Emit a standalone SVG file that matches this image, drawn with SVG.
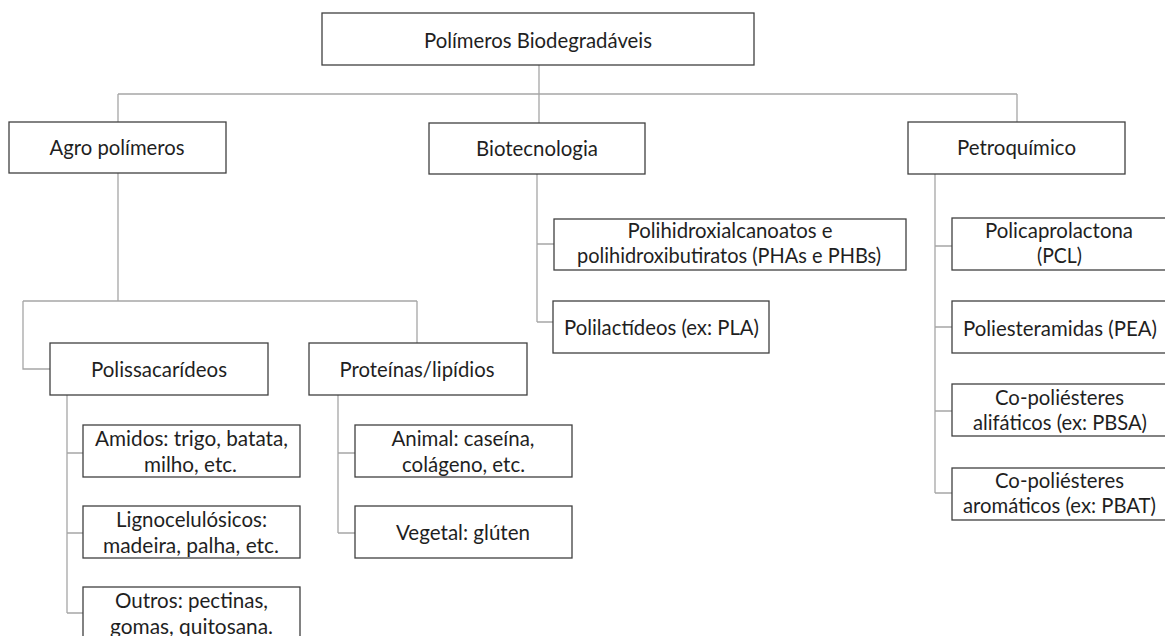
<svg xmlns="http://www.w3.org/2000/svg" width="1165" height="636" viewBox="0 0 1165 636">
<style>
.box{fill:#ffffff;stroke:#404040;stroke-width:1.3}
.con{fill:none;stroke:#a6a6a6;stroke-width:1.3}
text{font-family:Lato,"Open Sans","Liberation Sans",sans-serif;font-size:21px;fill:#1f1f1f;text-anchor:middle}
</style>
<rect width="1165" height="636" fill="#ffffff"/>
<g id="connectors">
<path class="con" d="M539,65 V94 M118,94 H1017 M118,94 V122 M539,94 V123 M1017,94 V122"/>
<path class="con" d="M118,173 V301 M23,301 H417 M23,301 V369 H50 M417,301 V343"/>
<path class="con" d="M67,395 V613 M67,453 H83 M67,533 H83 M67,613 H83"/>
<path class="con" d="M338,395 V533 M338,453 H355 M338,533 H355"/>
<path class="con" d="M537,174 V322 M537,244 H554 M537,322 H553"/>
<path class="con" d="M935,174 V493 M935,246 H952 M935,327 H952 M935,411 H952 M935,493 H952"/>
</g>
<g id="root"><rect class="box" x="322" y="13" width="432" height="52"/><text x="538" y="48" textLength="228" lengthAdjust="spacingAndGlyphs">Polímeros Biodegradáveis</text></g>
<g id="agro"><rect class="box" x="9" y="122" width="217" height="51"/><text x="117" y="155" textLength="135" lengthAdjust="spacingAndGlyphs">Agro polímeros</text></g>
<g id="bio"><rect class="box" x="429" y="123" width="216" height="51"/><text x="537" y="156" textLength="122" lengthAdjust="spacingAndGlyphs">Biotecnologia</text></g>
<g id="petro"><rect class="box" x="908" y="122" width="217" height="52"/><text x="1016.5" y="155" textLength="119" lengthAdjust="spacingAndGlyphs">Petroquímico</text></g>
<g id="polis"><rect class="box" x="50" y="343" width="218" height="52"/><text x="159" y="377" textLength="136" lengthAdjust="spacingAndGlyphs">Polissacarídeos</text></g>
<g id="prot"><rect class="box" x="309" y="343" width="218" height="52"/><text x="417" y="377" textLength="155" lengthAdjust="spacingAndGlyphs">Proteínas/lipídios</text></g>
<g id="amidos"><rect class="box" x="83" y="425" width="217" height="52"/><text x="191.5" y="446" textLength="193" lengthAdjust="spacingAndGlyphs">Amidos: trigo, batata,</text><text x="190.5" y="472" textLength="93" lengthAdjust="spacingAndGlyphs">milho, etc.</text></g>
<g id="ligno"><rect class="box" x="83" y="506" width="217" height="52"/><text x="191.5" y="527" textLength="151" lengthAdjust="spacingAndGlyphs">Lignocelulósicos:</text><text x="191" y="553" textLength="176" lengthAdjust="spacingAndGlyphs">madeira, palha, etc.</text></g>
<g id="outros"><rect class="box" x="83" y="587" width="217" height="52"/><text x="191.5" y="608" textLength="153" lengthAdjust="spacingAndGlyphs">Outros: pectinas,</text><text x="191.5" y="634" textLength="163" lengthAdjust="spacingAndGlyphs">gomas, quitosana.</text></g>
<g id="animal"><rect class="box" x="355" y="425" width="217" height="52"/><text x="463" y="446" textLength="143" lengthAdjust="spacingAndGlyphs">Animal: caseína,</text><text x="463.5" y="472" textLength="123" lengthAdjust="spacingAndGlyphs">colágeno, etc.</text></g>
<g id="vegetal"><rect class="box" x="355" y="506" width="217" height="52"/><text x="463" y="540" textLength="134" lengthAdjust="spacingAndGlyphs">Vegetal: glúten</text></g>
<g id="pha"><rect class="box" x="554" y="219" width="352" height="51"/><text x="730" y="238" textLength="205" lengthAdjust="spacingAndGlyphs">Polihidroxialcanoatos e</text><text x="729" y="263" textLength="304" lengthAdjust="spacingAndGlyphs">polihidroxibutiratos (PHAs e PHBs)</text></g>
<g id="pla"><rect class="box" x="553" y="301" width="216" height="52"/><text x="661.5" y="335" textLength="195" lengthAdjust="spacingAndGlyphs">Polilactídeos (ex: PLA)</text></g>
<g id="pcl"><rect class="box" x="952" y="218" width="216" height="52"/><text x="1059" y="238" textLength="148" lengthAdjust="spacingAndGlyphs">Policaprolactona</text><text x="1059.5" y="263" textLength="45" lengthAdjust="spacingAndGlyphs">(PCL)</text></g>
<g id="pea"><rect class="box" x="952" y="301" width="216" height="52"/><text x="1060" y="336" textLength="194" lengthAdjust="spacingAndGlyphs">Poliesteramidas (PEA)</text></g>
<g id="pbsa"><rect class="box" x="952" y="384" width="216" height="52"/><text x="1059.5" y="405" textLength="129" lengthAdjust="spacingAndGlyphs">Co-poliésteres</text><text x="1060" y="430" textLength="174" lengthAdjust="spacingAndGlyphs">alifáticos (ex: PBSA)</text></g>
<g id="pbat"><rect class="box" x="952" y="468" width="216" height="52"/><text x="1059.5" y="488" textLength="129" lengthAdjust="spacingAndGlyphs">Co-poliésteres</text><text x="1059.5" y="513" textLength="193" lengthAdjust="spacingAndGlyphs">aromáticos (ex: PBAT)</text></g>
</svg>
